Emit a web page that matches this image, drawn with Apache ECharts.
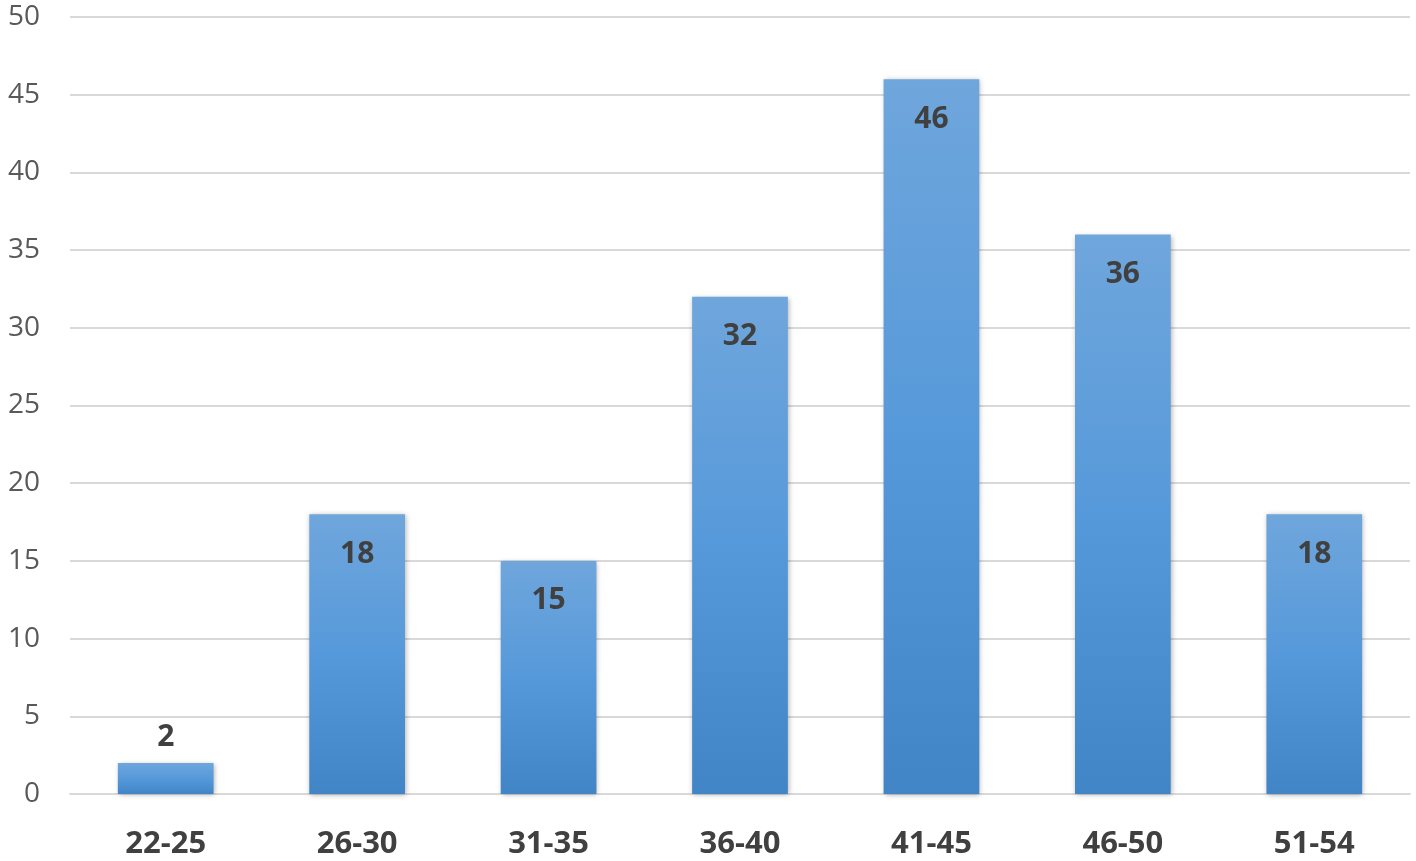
<!DOCTYPE html>
<html>
<head>
<meta charset="utf-8">
<script src="https://cdn.jsdelivr.net/npm/echarts@6/dist/echarts.min.js"></script>
<style>html,body{margin:0;padding:0;background:#fff;}#c{width:1416px;height:861px;}</style>
</head>
<body>
<div id="c"></div>
<script>
const categories = ['22-25', '26-30', '31-35', '36-40', '41-45', '46-50', '51-54'];
const counts = [2, 18, 15, 32, 46, 36, 18];
const yMin = 0, yMax = 50, yStep = 5;

const chart = echarts.init(document.getElementById('c'));
const font = '"Open Sans", "Noto Sans", sans-serif';
chart.setOption({
  animation: false,
  grid: { left: 70, right: 6, top: 17, bottom: 67, containLabel: false },
  xAxis: {
    type: 'category',
    data: categories,
    axisLine: { show: true, lineStyle: { color: '#d9d9d9', width: 2 } },
    axisTick: { show: false },
    axisLabel: { fontFamily: font, fontSize: 31, fontWeight: 'bold', color: '#404040', margin: 35 }
  },
  yAxis: {
    type: 'value',
    min: yMin, max: yMax, interval: yStep,
    axisLine: { show: false },
    axisTick: { show: false },
    splitLine: { lineStyle: { color: '#d9d9d9', width: 2 } },
    axisLabel: { fontFamily: font, fontSize: 28, color: '#595959', margin: 30 }
  },
  series: [{
    type: 'bar',
    barWidth: '50%',
    data: counts.map(v => ({
      value: v,
      label: { position: v < 5 ? 'top' : 'insideTop', distance: v < 5 ? 10 : 25 }
    })),
    itemStyle: {
      color: new echarts.graphic.LinearGradient(0, 0, 0, 1, [
        { offset: 0, color: '#6fa6dc' },
        { offset: 0.5, color: '#5699da' },
        { offset: 1, color: '#4285c6' }
      ]),
      shadowColor: 'rgba(0,0,0,0.3)', shadowBlur: 5, shadowOffsetX: 1, shadowOffsetY: 1
    },
    label: {
      show: true, fontFamily: font, fontSize: 30, fontWeight: 'bold', color: '#404040'
    }
  }]
});
</script>
</body>
</html>
